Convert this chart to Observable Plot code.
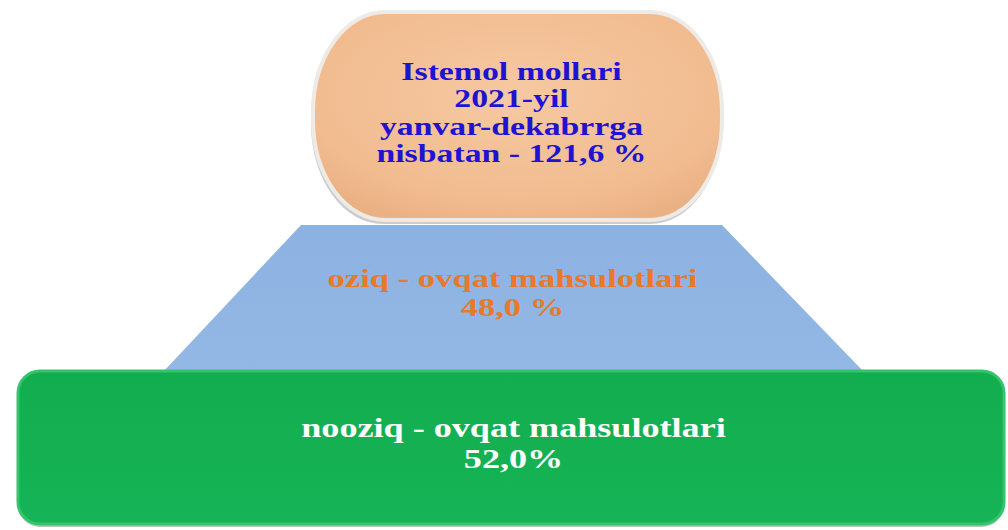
<!DOCTYPE html>
<html>
<head>
<meta charset="utf-8">
<script src="https://cdn.jsdelivr.net/npm/d3@7"></script>
<script src="https://cdn.jsdelivr.net/npm/@observablehq/plot@0.6"></script>
<style>
  html, body { margin: 0; padding: 0; background: #ffffff; }
  #chart svg { display: block; }
</style>
</head>
<body>
<div id="chart"></div>
<script>
// ---- data ----
const headerLines = ["Istemol mollari", "2021-yil", "yanvar-dekabrrga"];
const headerPrefix = "nisbatan - ";
const totalIndex = [121.6];
const categories = ["oziq - ovqat mahsulotlari", "nooziq - ovqat mahsulotlari"];
const shares = [48.0, 52.0];
const shareSuffix = [" %", "%"];

const fmt = v => v.toFixed(1).replace(".", ",");

// ---- layout (pixel space) ----
const W = 1008, H = 530;
const capsule = [{x1: 313, x2: 722, y1: 12, y2: 220}];
const trapezoid = [
  {y: 225, xl: 301, xr: 722},
  {y: 372, xl: 163, xr: 864}
];
const base = [{x1: 18, x2: 1004, y1: 371, y2: 524}];

const headerText = [...headerLines, headerPrefix + fmt(totalIndex[0]) + " %"];
const midText = [categories[0], fmt(shares[0]) + shareSuffix[0]];
const baseText = [categories[1], fmt(shares[1]) + shareSuffix[1]];

const serif = "'Liberation Serif', 'Times New Roman', serif";

const svg = Plot.plot({
  width: W, height: H, margin: 0,
  x: {domain: [0, W], range: [0, W], axis: null},
  y: {domain: [0, H], range: [0, H], axis: null},
  marks: [
    // capsule shadow
    Plot.rect(capsule, {x1: d => d.x1 - 2, x2: "x2", y1: d => d.y1 + 4, y2: d => d.y2 + 4, rx: 72, ry: 100, fill: "#8f8f8f", fillOpacity: 0.45}),
    Plot.rect(capsule, {x1: "x1", x2: "x2", y1: "y1", y2: "y2", rx: 72, ry: 100, fill: "url(#capGrad)", stroke: "#eeeae6", strokeWidth: 4}),
    // trapezoid
    Plot.areaX(trapezoid, {y: "y", x1: "xl", x2: "xr", fill: "url(#trapGrad)", curve: "linear"}),
    // green base
    Plot.rect(base, {x1: "x1", x2: "x2", y1: d => d.y1 + 3, y2: d => d.y2 + 3, rx: 22, ry: 22, fill: "#7d9886", fillOpacity: 0.55}),
    Plot.rect(base, {x1: "x1", x2: "x2", y1: "y1", y2: "y2", rx: 22, ry: 22, fill: "url(#baseGrad)", stroke: "#34c46c", strokeWidth: 3}),
    // texts
    Plot.text(headerText, {x: 511, y: (d, i) => 79 + i * 27.6, text: d => d, lineAnchor: "bottom", fill: "#2012d2", fontSize: 25, fontWeight: "bold", fontFamily: serif, ariaLabel: () => "header"}),
    Plot.text(midText, {x: 512, y: (d, i) => 286.5 + i * 29, text: d => d, lineAnchor: "bottom", fill: "#e8782a", fontSize: 26, fontWeight: "bold", fontFamily: serif, ariaLabel: () => "mid"}),
    Plot.text(baseText, {x: 513, y: (d, i) => 436 + i * 31, text: d => d, lineAnchor: "bottom", fill: "#ffffff", fontSize: 28, fontWeight: "bold", fontFamily: serif, ariaLabel: () => "base"})
  ]
});

const defs = d3.select(svg).insert("defs", ":first-child");
const cg = defs.append("radialGradient").attr("id", "capGrad").attr("cx", "50%").attr("cy", "40%").attr("r", "65%");
cg.append("stop").attr("offset", "0%").attr("stop-color", "#f6c9a2");
cg.append("stop").attr("offset", "80%").attr("stop-color", "#f1bb8f");
cg.append("stop").attr("offset", "100%").attr("stop-color", "#eab184");
const tg = defs.append("linearGradient").attr("id", "trapGrad").attr("x1", 0).attr("y1", 0).attr("x2", 0).attr("y2", 1);
tg.append("stop").attr("offset", "0%").attr("stop-color", "#8cb2e2");
tg.append("stop").attr("offset", "100%").attr("stop-color", "#94b8e5");
const bg = defs.append("linearGradient").attr("id", "baseGrad").attr("x1", 0).attr("y1", 0).attr("x2", 0).attr("y2", 1);
bg.append("stop").attr("offset", "0%").attr("stop-color", "#12ad4f");
bg.append("stop").attr("offset", "100%").attr("stop-color", "#16b456");

document.getElementById("chart").appendChild(svg);

// horizontal stretch of the bold serif text to match the reference lettering
const stretch = {header: 1.35, mid: 1.33, base: 1.29};
d3.select(svg).selectAll("text").each(function() {
  const k = stretch[this.getAttribute("aria-label")];
  if (!k) return;
  const L = this.getComputedTextLength();
  this.setAttribute("textLength", L * k);
  this.setAttribute("lengthAdjust", "spacingAndGlyphs");
});
</script>
</body>
</html>
